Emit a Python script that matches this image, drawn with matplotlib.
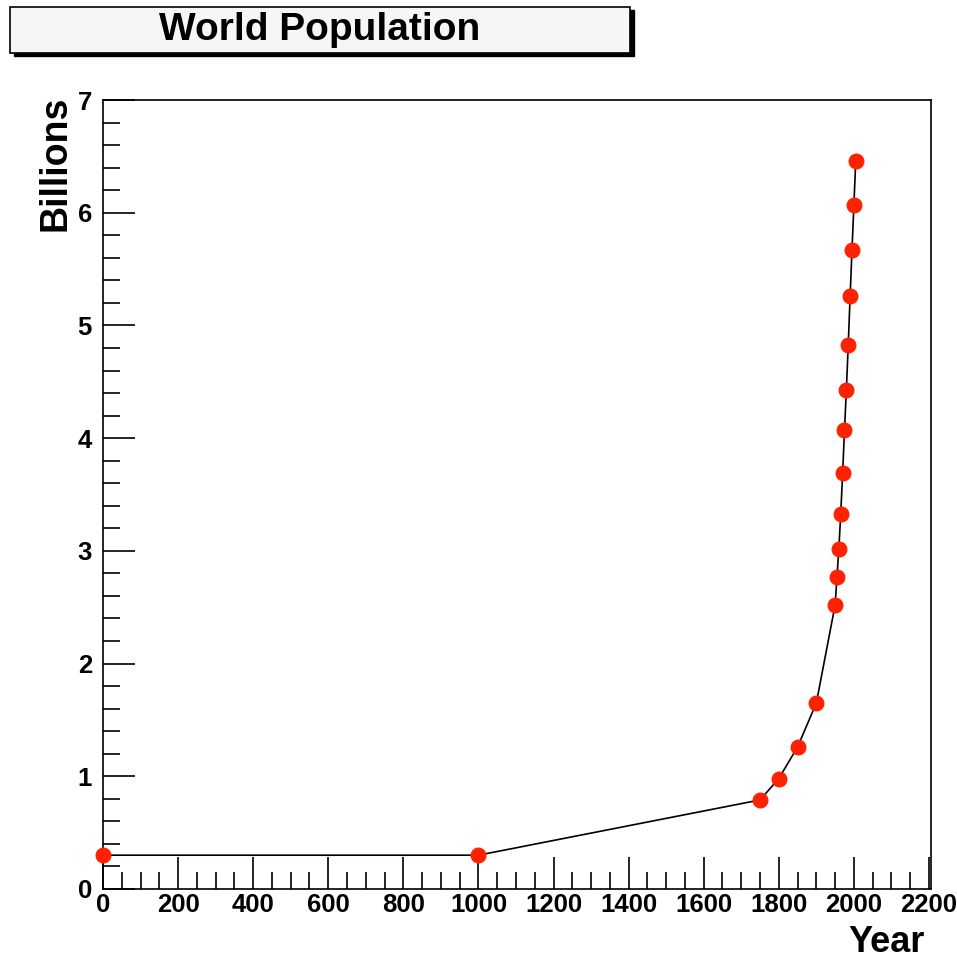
import matplotlib.pyplot as plt
from matplotlib.patches import Rectangle
from matplotlib.ticker import MultipleLocator

plt.rcParams['font.family'] = ['Liberation Sans', 'DejaVu Sans']

# world population data (billions)
year = [1, 1000, 1750, 1800, 1850, 1900, 1950, 1955, 1960, 1965, 1970,
        1975, 1980, 1985, 1990, 1995, 2000, 2005]
pop = [0.3, 0.3, 0.79, 0.98, 1.26, 1.65, 2.52, 2.77, 3.02, 3.33, 3.69,
       4.07, 4.43, 4.83, 5.26, 5.67, 6.07, 6.46]

fig = plt.figure(figsize=(9.57, 9.6), dpi=100)
W, H = 957, 960
ax = fig.add_axes([103 / W, 1 - 889 / H, 828 / W, 789 / H])

ax.plot(year, pop, color='black', lw=1.2, zorder=2)
ax.plot(year, pop, 'o', color='#ff2200', ms=10.5, mec='#ff2200', zorder=3,
        clip_on=False)

ax.set_xlim(0, 2205.4)
ax.set_ylim(0, 7)
ax.xaxis.set_major_locator(MultipleLocator(200))
ax.xaxis.set_minor_locator(MultipleLocator(50))
ax.yaxis.set_major_locator(MultipleLocator(1))
ax.yaxis.set_minor_locator(MultipleLocator(0.2))
ax.tick_params(which='major', direction='in', length=23, width=1.2,
               labelsize=18.5, top=False, right=False)
ax.tick_params(which='minor', direction='in', length=12, width=1.2,
               top=False, right=False)
ax.tick_params(axis='x', pad=3)
ax.tick_params(axis='y', pad=8)
for lab in ax.get_xticklabels() + ax.get_yticklabels():
    lab.set_fontweight('bold')
for s in ax.spines.values():
    s.set_linewidth(1.2)

fig.text(925 / W, 1 - 943 / H, 'Year', ha='right', va='center',
         fontsize=26, fontweight='bold')
fig.text(55 / W, 1 - 163 / H, 'Billions', ha='center', va='center',
         rotation=90, fontsize=27, fontweight='bold')

# title box with shadow
fig.patches.append(Rectangle((14 / W, 1 - 56 / H), 620 / W, 46 / H,
                             transform=fig.transFigure, facecolor='black',
                             edgecolor='black', zorder=1))
fig.patches.append(Rectangle((10 / W, 1 - 53 / H), 620 / W, 46 / H,
                             transform=fig.transFigure, facecolor='#f6f6f6',
                             edgecolor='black', lw=1.2, zorder=2))
fig.text(320 / W, 1 - 30 / H, 'World Population', ha='center', va='center',
         fontsize=28, fontweight='bold', zorder=3)

fig.savefig('out.png', dpi=100)
